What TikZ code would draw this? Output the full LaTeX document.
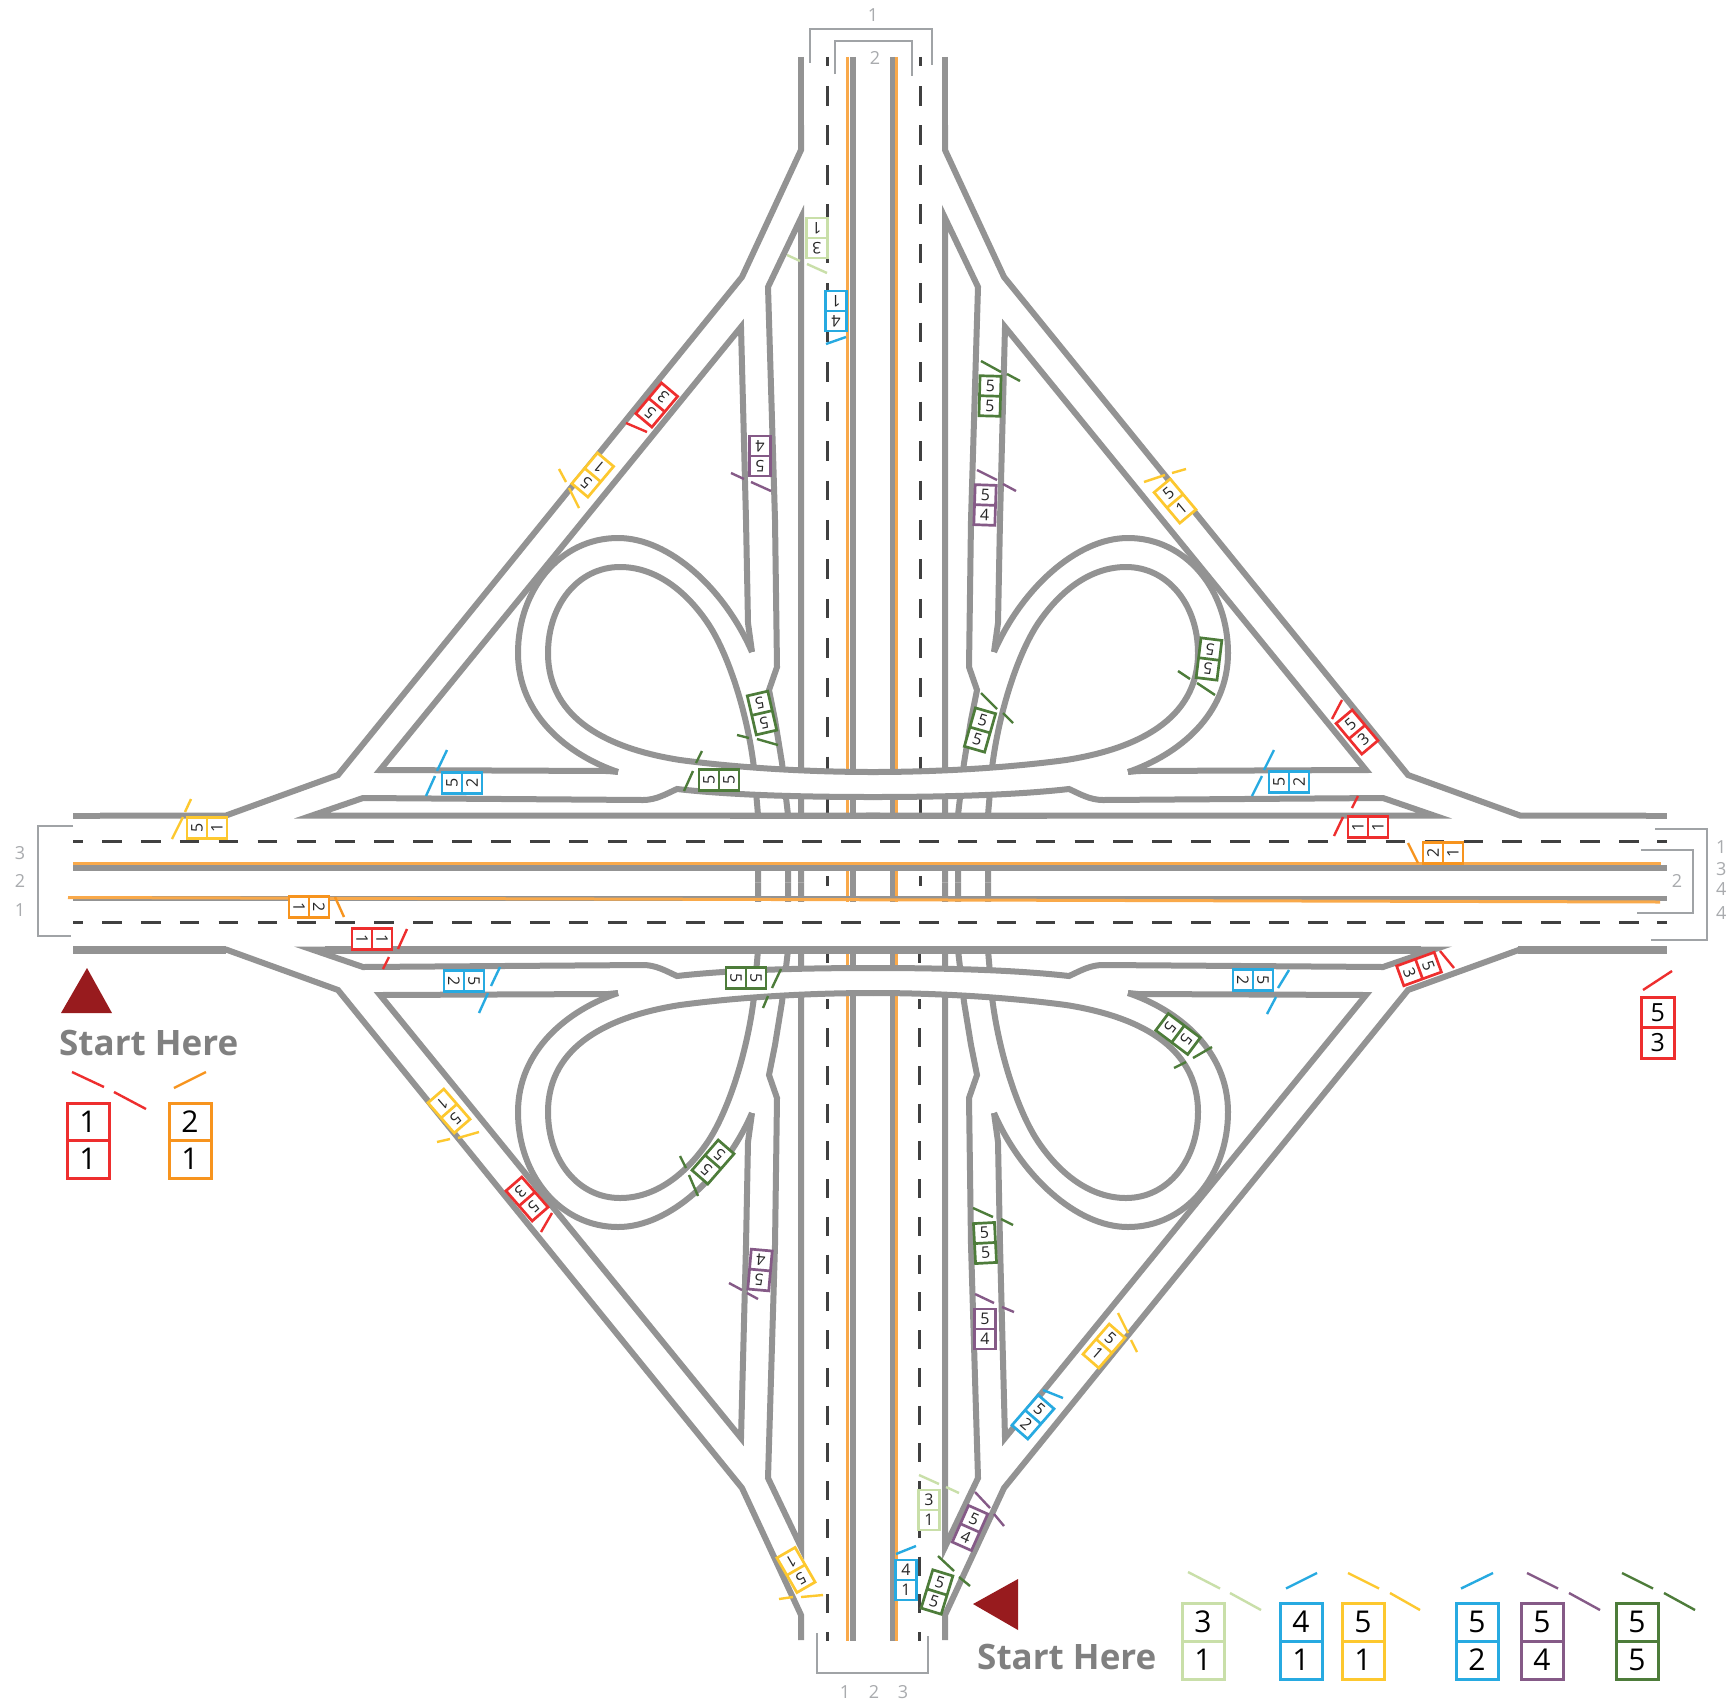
\documentclass[tikz,border=0pt]{standalone}
\usepackage{fontspec}
\setmainfont{Open Sans}
\definecolor{roadgray}{HTML}{939393}
\definecolor{dashgray}{HTML}{404040}
\definecolor{stripe}{HTML}{F9A94A}
\definecolor{bracketgray}{HTML}{A0A3A6}
\definecolor{labelgray}{HTML}{A9ABAE}
\definecolor{startgray}{HTML}{808080}
\definecolor{darkred}{HTML}{981B1E}
\definecolor{sred}{HTML}{EE2E2E}
\definecolor{sorange}{HTML}{F7941E}
\definecolor{syellow}{HTML}{FDC82F}
\definecolor{sblue}{HTML}{27AAE1}
\definecolor{slgreen}{HTML}{C9DFA9}
\definecolor{spurple}{HTML}{855A87}
\definecolor{sgreen}{HTML}{4D7C3A}
\tikzset{
  road/.style={draw=roadgray,line width=6pt,line join=miter},
  stripeln/.style={draw=stripe,line width=3pt},
  dashv/.style={draw=dashgray,line width=3pt,dash pattern=on 19.6pt off 19.85pt},
  dashw/.style={draw=dashgray,line width=3pt,dash pattern=on 19.2pt off 18.55pt},
  dashh/.style={draw=dashgray,line width=3pt,dash pattern=on 19.6pt off 19.3pt},
  dashs/.style={draw=dashgray,line width=3pt},
  bracket/.style={draw=bracketgray,line width=2.4pt},
  glabel/.style={text=labelgray,font=\fontsize{18}{20}\selectfont,inner sep=0pt},
  slashln/.style={line width=2.4pt},
  signbox/.style={line width=2.7pt},
  signtext/.style={inner sep=0pt,text=black!85,font=\fontsize{16}{18}\selectfont},
  starttext/.style={inner sep=0pt,text=startgray,font=\fontsize{35}{40}\selectfont\bfseries},
}
% small two-cell sign: cx cy rotation colour top bottom
\newcommand\rsign[6]{%
  \begin{scope}[shift={(#1,#2)},rotate=#3]
    \draw[signbox,draw=#4,fill=white] (-10.5,-20) rectangle (10.5,20);
    \draw[signbox,draw=#4] (-10.5,0) -- (10.5,0);
    \node[signtext,rotate=#3] (sa#1-#2) at (0,-10) {#5};
    \node[signtext,rotate=#3] (sb#1-#2) at (0,10) {#6};
  \end{scope}}
% legend sign: cx cy halfwidth halfheight colour top bottom fontsize
\newcommand\lsign[8]{%
  \begin{scope}[shift={(#1,#2)}]
    \draw[draw=#5,fill=white,line width=3pt] (-#3,-#4) rectangle (#3,#4);
    \draw[draw=#5,line width=3pt] (-#3,0) -- (#3,0);
    \node[inner sep=0pt,text=black,font=\fontsize{#8}{#8}\selectfont] (la#1) at (0,-#4/2) {#6};
    \node[inner sep=0pt,text=black,font=\fontsize{#8}{#8}\selectfont] (lb#1) at (0,#4/2) {#7};
  \end{scope}}
\newcommand\ticks[2]{\draw[slashln,draw=#1] #2;}
% quadrant parts, drawn for the upper-left and mirrored
\newcommand\quadlow{%
  \draw[road] (801,882.5) -- (801,218) -- (768,287) -- (775,520) -- (777,667) -- (769,690) -- (775,720) -- (782,763) -- (788,815) -- (788,882.5);
  \draw[road] (754,768) -- (758,815) -- (758,882.5);
}
\newcommand\quadfill{%
  \fill[white] (873,772) .. controls (810,772) and (740,768) .. (680,760) -- (677,789) .. controls (730,795) and (800,797) .. (873,797) -- cycle;
}
\newcommand\quadtop{%
  \draw[road] (801,125) -- (801,150) -- (742,277) -- (338,775) -- (226,815.5) -- (100,815.5);
  \draw[road] (618,772) -- (608,771) -- (380,770) -- (741,327) -- (746,520) -- (748,623) -- (752,652);
  \draw[road] (873,772) .. controls (810,772) and (740,768) .. (680,760)
     .. controls (610,749) and (548,720) .. (548,653)
     .. controls (548,605) and (578,567) .. (620,567)
     .. controls (655,567) and (685,590) .. (707,622)
     .. controls (727,651) and (747,710) .. (754,768);
  \draw[road] (618,772) .. controls (568,755) and (518,715) .. (518,653)
     .. controls (518,590) and (560,538) .. (618,538)
     .. controls (670,538) and (725,590) .. (752,652);
  \draw[road] (873,797) .. controls (800,797) and (730,795) .. (677,789) .. controls (666,794) and (656,800) .. (643,800) -- (363,798) -- (312,815.5) -- (880,815.5);
}
\newcommand\fourways[1]{%
  \begin{scope}#1\end{scope}
  \begin{scope}[shift={(1746,0)},xscale=-1]#1\end{scope}
  \begin{scope}[shift={(0,1765)},yscale=-1]#1\end{scope}
  \begin{scope}[shift={(1746,1765)},xscale=-1,yscale=-1]#1\end{scope}}
\begin{document}
\begin{tikzpicture}[x=1pt,y=-1pt]
\useasboundingbox (0,0) rectangle (1728,1702);
\fill[white] (0,0) rectangle (1728,1702);
% --- lower deck: vertical highway
\draw[stripeln] (847.5,57) -- (847.5,1641);
\draw[stripeln] (896.5,57) -- (896.5,1641);
\draw[road] (852.5,57) -- (852.5,1641);
\draw[road,line width=5.5pt] (892.5,57) -- (892.5,1641);
\foreach \dx/\ex in {827/827,920/919}{
  \draw[dashs] (\dx,57) -- (\dx,66);
  \draw[dashv] (\dx,86) -- (\dx,816);
  \draw[dashs] (\dx,876) -- (\dx,886);
  \draw[dashs] (\ex,953) -- (\ex,963);
  \draw[dashs] (\ex,999) -- (\ex,1009);
  \draw[dashw] (\ex,1028) -- (\ex,1641);
}
\fourways{\quadlow}
% --- overpass bands and highway lanes hide what runs under them
\fourways{\quadfill}
\fill[white] (690,818) rectangle (1056,862);
\fill[white] (690,902) rectangle (1056,946);
% --- upper deck
\fourways{\quadtop}
\draw[road] (801,57) -- (801,125);
\draw[road] (945,57) -- (945,125);
\draw[road] (73,815.5) -- (100,815.5);
\draw[road] (1646,815.5) -- (1667,815.5);
\draw[road,line width=4pt] (730,817) -- (1047,817);
\draw[road,line width=8pt] (73,950) -- (226,950);
\draw[road,line width=8pt] (325,950) -- (1421,950);
\draw[road,line width=8pt] (1518,950) -- (1667,950);
\draw[stripeln] (73,863.5) -- (1661,863.5);
\draw[road] (73,868) -- (1667,868);
\draw[road,line width=4.5pt] (73,898.5) -- (1667,898.5);
\draw[stripeln] (68,897.5) -- (1660,902);
\foreach \hy in {841,922}{
  \draw[dashs] (73,\hy) -- (83,\hy);
  \draw[dashh] (102,\hy) -- (1640,\hy);
  \draw[dashs] (1657,\hy) -- (1667,\hy);
}
% --- brackets and lane numbers
\draw[bracket] (810,63) -- (810,29) -- (932,29) -- (932,65);
\draw[bracket] (835,74) -- (835,41) -- (912,41) -- (912,76);
\node[glabel] (top1) at (873,15) {1};
\node[glabel] (top2) at (875,58) {2};
\draw[bracket] (73,826) -- (38,826) -- (38,936) -- (71,936);
\node[glabel] (left3) at (20,853) {3};
\node[glabel] (left2) at (20,881) {2};
\node[glabel] (left1) at (20,910) {1};
\draw[bracket] (1655,829) -- (1707,829) -- (1707,940) -- (1651,940);
\draw[bracket] (1641,850) -- (1693,850) -- (1693,913) -- (1637,913);
\node[glabel] (right2) at (1677,881) {2};
\node[glabel,anchor=west] (rlab1) at (1716,847) {1};
\node[glabel,anchor=west] (rlab3) at (1716,869) {3};
\node[glabel,anchor=west] (rlab4) at (1716,889) {4};
\node[glabel,anchor=west] (rlab5) at (1716,913) {4};
\draw[bracket] (817,1633) -- (817,1673) -- (928,1673) -- (928,1636);
\node[glabel] (bot1) at (845,1692) {1};
\node[glabel] (bot2) at (874,1692) {2};
\node[glabel] (bot3) at (903,1692) {3};
% --- start markers
\fill[darkred] (87,968) -- (112,1013) -- (61,1013) -- cycle;
\node[starttext,anchor=base west] (startl) at (59,1055) {Start Here};
\fill[darkred] (973,1604) -- (1018,1579) -- (1018,1630) -- cycle;
\node[starttext,anchor=base west] (startr) at (977,1669) {Start Here};
% --- signs on the roads
\rsign{816.7}{238}{180}{slgreen}{3}{1}
\ticks{slgreen}{(787,255) -- (800,261) (807,264) -- (827,273)}
\rsign{836}{311}{180}{sblue}{4}{1}
\ticks{sblue}{(826,344) -- (846,337)}
\rsign{990}{396}{-1.5}{sgreen}{5}{5}
\ticks{sgreen}{(981,361) -- (1001,372) (1007,374) -- (1020,381)}
\rsign{985}{505}{-2}{spurple}{5}{4}
\ticks{spurple}{(977,470) -- (997,480) (1003,484) -- (1016,491)}
\rsign{760}{456}{180}{spurple}{5}{4}
\ticks{spurple}{(731,473) -- (744,479) (751,482) -- (771,491)}
\rsign{656.7}{405}{140}{sred}{5}{3}
\ticks{sred}{(626,423) -- (647,432)}
\rsign{592.7}{475}{140}{syellow}{5}{1}
\ticks{syellow}{(559,469) -- (566,482) (569,488) -- (579,508)}
\rsign{1175}{501}{40}{syellow}{5}{1}
\ticks{syellow}{(1144,482) -- (1165,475) (1172,473) -- (1186,469)}
\rsign{1209}{659}{173}{sgreen}{5}{5}
\ticks{sgreen}{(1178,671) -- (1190,679) (1197,683) -- (1215,695)}
\rsign{1357}{732}{40}{sred}{5}{3}
\ticks{sred}{(1342,700) -- (1332,719)}
\rsign{1289}{782}{90}{sblue}{5}{2}
\ticks{sblue}{(1274,750) -- (1264,770) (1262,776) -- (1252,796)}
\rsign{1368}{827}{90}{sred}{1}{1}
\ticks{sred}{(1358,796) -- (1352,808) (1343,817) -- (1334,836)}
\rsign{462}{783}{90}{sblue}{5}{2}
\ticks{sblue}{(447,750) -- (437,771) (435,776) -- (426,796)}
\rsign{719}{780}{90}{sgreen}{5}{5}
\ticks{sgreen}{(702,751) -- (696,763) (693,771) -- (684,791)}
\rsign{762}{713}{193}{sgreen}{5}{5}
\ticks{sgreen}{(737,735) -- (749,738) (757,739) -- (778,745)}
\rsign{980}{730}{-16}{sgreen}{5}{5}
\ticks{sgreen}{(981,693) -- (997,709) (1003,713) -- (1013,723)}
\rsign{746}{978}{-90}{sgreen}{5}{5}
\ticks{sgreen}{(781,969) -- (772,988) (768,996) -- (763,1008)}
\rsign{207}{828}{90}{syellow}{5}{1}
\ticks{syellow}{(191,799) -- (185,812) (183,817) -- (172,839)}
\rsign{309}{907}{-90}{sorange}{2}{1}
\ticks{sorange}{(335,897) -- (344,917)}
\rsign{372}{939}{-90}{sred}{1}{1}
\ticks{sred}{(407,929) -- (398,949) (389,957) -- (383,969)}
\rsign{1443}{853}{90}{sorange}{2}{1}
\ticks{sorange}{(1408,843) -- (1418,863)}
\rsign{1419}{969}{-70}{sred}{5}{3}
\ticks{sred}{(1440,951) -- (1454,968)}
\rsign{464}{981}{-90}{sblue}{5}{2}
\ticks{sblue}{(500,967) -- (491,986) (488,993) -- (479,1013)}
\rsign{449}{1111}{221}{syellow}{5}{1}
\ticks{syellow}{(437,1142) -- (450,1139) (458,1138) -- (479,1132)}
\rsign{527}{1199}{221}{sred}{5}{3}
\ticks{sred}{(552,1213) -- (541,1232)}
\rsign{713}{1162}{139}{sgreen}{5}{5}
\ticks{sgreen}{(680,1156) -- (686,1168) (689,1175) -- (698,1196)}
\rsign{760}{1270}{175}{spurple}{5}{4}
\ticks{spurple}{(729,1283) -- (742,1290) (747,1293) -- (758,1299)}
\rsign{1253}{980}{-90}{sblue}{5}{2}
\ticks{sblue}{(1289,970) -- (1278,988) (1276,997) -- (1267,1014)}
\rsign{1178}{1034}{-127}{sgreen}{5}{5}
\ticks{sgreen}{(1212,1047) -- (1193,1058) (1186,1062) -- (1174,1068)}
\rsign{985}{1243}{3}{sgreen}{5}{5}
\ticks{sgreen}{(973,1208) -- (993,1217) (1001,1219) -- (1013,1225)}
\rsign{985}{1329}{0}{spurple}{5}{4}
\ticks{spurple}{(975,1294) -- (994,1303) (1002,1307) -- (1014,1312)}
\rsign{1104}{1346}{-41}{syellow}{5}{1}
\ticks{syellow}{(1118,1313) -- (1128,1333) (1131,1340) -- (1137,1352)}
\rsign{1033}{1417}{-41}{sblue}{5}{2}
\ticks{sblue}{(1043,1390) -- (1063,1398)}
\rsign{796}{1570}{210}{syellow}{5}{1}
\ticks{syellow}{(779,1599) -- (793,1597) (801,1597) -- (823,1595)}
\rsign{929}{1510}{0}{slgreen}{3}{1}
\ticks{slgreen}{(919,1475) -- (939,1484) (946,1487) -- (959,1493)}
\rsign{906}{1580}{0}{sblue}{4}{1}
\ticks{sblue}{(896,1554) -- (916,1546)}
\rsign{970}{1528}{-24}{spurple}{5}{4}
\ticks{spurple}{(975,1492) -- (990,1508) (994,1514) -- (1004,1526)}
\rsign{937}{1592}{-17}{sgreen}{5}{5}
\ticks{sgreen}{(938,1556) -- (954,1571) (959,1577) -- (970,1586)}
% --- legends
\lsign{88}{1140.5}{21}{37.5}{sred}{1}{1}{30}
\ticks{sred}{(72,1072) -- (104,1087) (114,1092) -- (146,1109)}
\lsign{190}{1140.5}{21}{37.5}{sorange}{2}{1}{30}
\ticks{sorange}{(206,1072) -- (174,1088)}
\lsign{1657.7}{1027.5}{16.5}{30.5}{sred}{5}{3}{25}
\ticks{sred}{(1672,971) -- (1643,990)}
\lsign{1203}{1641}{21}{38}{slgreen}{3}{1}{30}
\ticks{slgreen}{(1188,1572) -- (1220,1588.5) (1230,1593) -- (1261,1610)}
\lsign{1301}{1641}{21}{38}{sblue}{4}{1}{30}
\ticks{sblue}{(1317,1573) -- (1286,1588.5)}
\lsign{1363}{1641}{21}{38}{syellow}{5}{1}{30}
\ticks{syellow}{(1348,1573) -- (1379,1588.5) (1390,1593) -- (1420,1610)}
\lsign{1477}{1641}{21}{38}{sblue}{5}{2}{30}
\ticks{sblue}{(1493,1573) -- (1461,1588.5)}
\lsign{1542}{1641}{21}{38}{spurple}{5}{4}{30}
\ticks{spurple}{(1527,1573) -- (1558,1588.5) (1569,1593) -- (1600,1610)}
\lsign{1637}{1641}{21}{38}{sgreen}{5}{5}{30}
\ticks{sgreen}{(1622,1573) -- (1653,1588.5) (1664,1593) -- (1695,1610)}
\end{tikzpicture}
\end{document}
